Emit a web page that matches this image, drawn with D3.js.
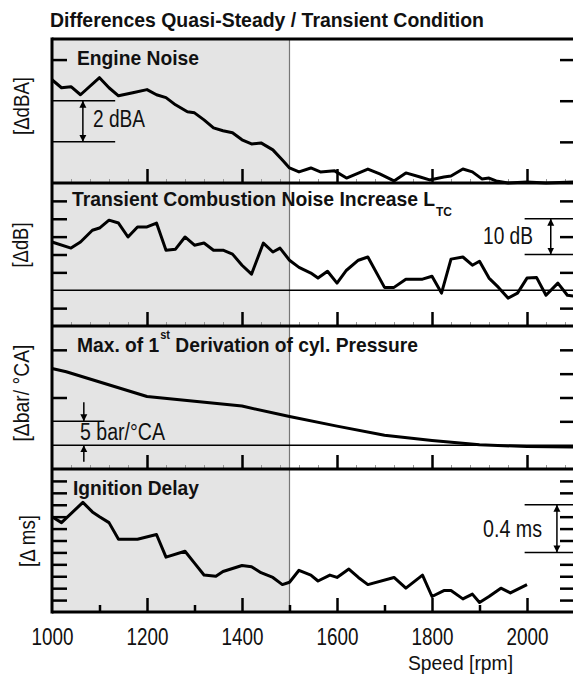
<!DOCTYPE html>
<html>
<head>
<meta charset="utf-8">
<title>Differences Quasi-Steady / Transient Condition</title>
<script src="https://d3js.org/d3.v7.min.js"></script>
<style>
  body { margin: 0; background: #fff; }
  svg text { font-family: 'Liberation Sans', Arial, sans-serif; fill: #111; }
  .frame { stroke: #000; stroke-width: 3; fill: none; }
  .tick line { stroke: #000; stroke-width: 2.5; }
  .minor .tick line { stroke: #999; stroke-width: 1; }
  .data { fill: none; stroke: #000; stroke-width: 3; stroke-linejoin: round; }
  .thin { stroke: #000; stroke-width: 1.5; }
</style>
</head>
<body>
<div id="chart"></div>
<script>
// ---- data ----
var rpmTicks = [1000, 1200, 1400, 1600, 1800, 2000];

var engineRpm   = [1000, 1020, 1040, 1060, 1100, 1120, 1140, 1170, 1200, 1220, 1240, 1260, 1285, 1300, 1320, 1340, 1360, 1380, 1400, 1420, 1440, 1465, 1485, 1500, 1520, 1545, 1565, 1595, 1620, 1665, 1690, 1720, 1745, 1775, 1795, 1825, 1840, 1865, 1885, 1905, 1920, 1935, 1960, 2000, 2040, 2100];
var engineNoise = [3.02, 2.63, 2.68, 2.29, 3.12, 2.63, 2.24, 2.39, 2.54, 2.29, 2.15, 1.80, 1.46, 1.41, 1.07, 0.68, 0.54, 0.44, 0.10, -0.10, -0.05, -0.39, -0.88, -1.27, -1.46, -1.27, -1.46, -1.41, -1.76, -1.32, -1.56, -1.90, -1.51, -1.71, -1.85, -1.71, -1.66, -1.32, -1.46, -1.80, -1.76, -1.90, -2.0, -1.95, -2.0, -1.95];

var transRpm  = [1000, 1040, 1060, 1085, 1100, 1120, 1140, 1160, 1180, 1200, 1220, 1240, 1260, 1280, 1300, 1320, 1340, 1360, 1380, 1400, 1420, 1445, 1465, 1480, 1500, 1520, 1545, 1560, 1580, 1600, 1620, 1645, 1665, 1700, 1720, 1745, 1780, 1800, 1820, 1840, 1865, 1885, 1900, 1920, 1940, 1960, 1980, 2000, 2020, 2040, 2065, 2085, 2100];
var transNoise = [13.5, 11.8, 13.5, 16.8, 17.4, 19.6, 18.8, 14.9, 17.7, 17.7, 18.8, 11.2, 11.5, 14.9, 12.6, 13.2, 11.2, 11.2, 10.1, 7.0, 4.5, 13.2, 10.7, 11.8, 8.4, 6.4, 4.8, 3.4, 5.3, 2.0, 5.6, 8.4, 9.3, 0.8, 0.8, 3.1, 3.1, 3.9, -0.8, 8.7, 9.3, 7.0, 8.1, 3.4, 0.8, -2.2, -0.8, 3.4, 3.6, -1.4, 2.0, -1.4, -1.7];

var pressRpm   = [1000, 1030, 1200, 1400, 1500, 1600, 1700, 1800, 1900, 2000, 2100];
var pressDeriv = [16.1, 15.4, 10.2, 8.2, 6.0, 4.0, 2.1, 1.0, 0.1, -0.3, -0.4];

var ignRpm   = [1000, 1020, 1065, 1085, 1100, 1120, 1140, 1180, 1220, 1240, 1280, 1300, 1320, 1345, 1360, 1400, 1420, 1440, 1465, 1485, 1500, 1520, 1545, 1560, 1585, 1600, 1625, 1645, 1665, 1720, 1745, 1780, 1800, 1825, 1840, 1865, 1885, 1900, 1920, 1945, 1965, 2000];
var ignDelay = [0.80, 0.75, 0.92, 0.84, 0.80, 0.75, 0.61, 0.61, 0.65, 0.46, 0.51, 0.41, 0.31, 0.30, 0.34, 0.39, 0.38, 0.33, 0.29, 0.23, 0.25, 0.35, 0.31, 0.26, 0.31, 0.29, 0.36, 0.29, 0.23, 0.29, 0.20, 0.31, 0.13, 0.18, 0.18, 0.11, 0.15, 0.08, 0.13, 0.20, 0.16, 0.23];

// ---- layout ----
var width = 573, height = 677;
var left = 52, right = 574.5;
var tops = [39, 183, 326, 469], bottom = 612;

var svg = d3.select("#chart").append("svg")
    .attr("width", width)
    .attr("height", height);

var defs = svg.append("defs");
defs.append("marker")
    .attr("id", "arr")
    .attr("viewBox", "0 0 10 10")
    .attr("refX", 10).attr("refY", 5)
    .attr("markerWidth", 7).attr("markerHeight", 9)
    .attr("markerUnits", "userSpaceOnUse")
    .attr("orient", "auto-start-reverse")
    .append("path").attr("d", "M0,0L10,5L0,10Z").attr("fill", "#000");

// condensed look: stretch text to the widths measured on the figure
// parts: [text, fontSize, dy, dx]
function txt(tx, ty, parts, len, bold, anchor) {
  var t = svg.append("text")
      .attr("x", tx).attr("y", ty)
      .attr("text-anchor", anchor || "start");
  if (typeof parts === "string") parts = [[parts, 23]];
  t.style("font-size", parts[0][1] + "px");
  parts.forEach(function(pt) {
    var s = t.append("tspan").text(pt[0]).style("font-size", pt[1] + "px");
    if (pt[2]) s.attr("dy", pt[2]);
    if (pt[3]) s.attr("dx", pt[3]);
  });
  if (bold) t.style("font-weight", "bold");
  if (len) t.attr("textLength", len).attr("lengthAdjust", "spacingAndGlyphs");
  return t;
}

var x = d3.scaleLinear().domain([1000, 2100]).range([left, right]);

var panels = [
  { name: "engine", domain: [-2, 5], rpm: engineRpm, vals: engineNoise,
    label: "[\u0394dBA]", lx: 29, ly: 106, llen: 58,
    leftTicks: [4], rightTicks: [4, 2, 0] },
  { name: "trans", domain: [-10, 30], rpm: transRpm, vals: transNoise,
    label: "[\u0394dB]", lx: 28, ly: 245, llen: 45,
    leftTicks: [25, 20, 15, 10, 5, -5], rightTicks: [25, 15, 5, -5] },
  { name: "press", domain: [-5, 25], rpm: pressRpm, vals: pressDeriv,
    label: "[\u0394bar/ \u00b0CA]", lx: 29, ly: 393, llen: 97,
    leftTicks: [20, 10], rightTicks: [20, 15, 10, 5] },
  { name: "ign", domain: [0, 1.2], rpm: ignRpm, vals: ignDelay,
    label: "[\u0394 ms]", lx: 35, ly: 541, llen: 52,
    leftTicks: d3.range(1, 12).map(function(i) { return i / 10; }),
    rightTicks: [0.1, 0.2, 0.3, 0.4, 0.6, 0.7, 0.8, 1.0, 1.1] }
];

panels.forEach(function(p, i) {
  p.top = tops[i];
  p.bottom = i < 3 ? tops[i + 1] : bottom;
  p.y = d3.scaleLinear().domain(p.domain).range([p.bottom, p.top]);
});

// grey quasi-steady region
svg.append("rect")
    .attr("x", x(1000)).attr("y", tops[0])
    .attr("width", x(1500) - x(1000)).attr("height", bottom - tops[0])
    .attr("fill", "#e4e4e4");
svg.append("line")
    .attr("x1", x(1500)).attr("x2", x(1500))
    .attr("y1", tops[0]).attr("y2", bottom)
    .attr("stroke", "#777").attr("stroke-width", 1.2);

panels.forEach(function(p, i) {
  var g = svg.append("g").attr("class", "panel-" + p.name);

  // faint fine ticks along the panel separators
  if (i < 3) {
    var gm = g.append("g").attr("class", "minor")
        .attr("transform", "translate(0," + p.bottom + ")")
        .call(d3.axisBottom(x).tickValues(d3.range(1040, 2100, 40)).tickSize(-4).tickFormat(""));
    gm.select(".domain").remove();
  }

  // x ticks pointing up from the panel bottom
  var xAx = d3.axisBottom(x)
      .tickValues(i < 3 ? [1200, 1400, 1600, 1800, 2000] : d3.range(1100, 2100, 100))
      .tickSize(-14).tickFormat("");
  var gx = g.append("g").attr("transform", "translate(0," + p.bottom + ")").call(xAx);
  gx.select(".domain").remove();
  if (i === 3) {
    gx.selectAll(".tick line").attr("y2", function(d) { return d % 200 === 0 ? -14 : -7; });
  }

  // y ticks inside left and right
  var gl = g.append("g").attr("transform", "translate(" + left + ",0)")
      .call(d3.axisLeft(p.y).tickValues(p.leftTicks).tickSize(-15).tickFormat(""));
  gl.select(".domain").remove();
  var gr = g.append("g").attr("transform", "translate(" + width + ",0)")
      .call(d3.axisRight(p.y).tickValues(p.rightTicks).tickSize(-13).tickFormat(""));
  gr.select(".domain").remove();

  // data line
  var line = d3.line()
      .x(function(d) { return x(d[0]); })
      .y(function(d) { return p.y(d[1]); });
  g.append("path")
      .attr("class", "data")
      .attr("d", line(d3.zip(p.rpm, p.vals)));

  // y axis label
  g.append("text")
      .attr("transform", "translate(" + p.lx + "," + p.ly + ") rotate(-90)")
      .attr("text-anchor", "middle")
      .attr("textLength", p.llen).attr("lengthAdjust", "spacingAndGlyphs")
      .style("font-size", "22px")
      .text(p.label);
});

var P = panels;

// zero lines
[P[1], P[2]].forEach(function(p) {
  svg.append("line").attr("class", "thin")
      .attr("x1", left).attr("x2", width)
      .attr("y1", p.y(0)).attr("y2", p.y(0));
});

// frame: left axis, top, separators, bottom
svg.append("line").attr("class", "frame")
    .attr("x1", left).attr("x2", left).attr("y1", tops[0] - 1.5).attr("y2", bottom + 1.5);
tops.concat([bottom]).forEach(function(t) {
  svg.append("line").attr("class", "frame")
      .attr("x1", left).attr("x2", width).attr("y1", t).attr("y2", t);
});

// scale bars
function hbar(p, v, r0, r1) {
  svg.append("line").attr("class", "thin")
      .attr("x1", x(r0)).attr("x2", x(r1))
      .attr("y1", p.y(v)).attr("y2", p.y(v));
}
function arrow(xv, ya, yb, both) {
  var l = svg.append("line")
      .attr("x1", xv).attr("x2", xv).attr("y1", ya).attr("y2", yb)
      .attr("stroke", "#000").attr("stroke-width", 1.5)
      .attr("marker-end", "url(#arr)");
  if (both) l.attr("marker-start", "url(#arr)");
}

// engine noise: 2 dBA
hbar(P[0], 2, 1000, 1133);
hbar(P[0], 0, 1000, 1133);
arrow(x(1065), P[0].y(2), P[0].y(0), true);
txt(93, 127, "2 dBA", 52);

// transient: 10 dB
hbar(P[1], 20, 1995, 2100);
hbar(P[1], 10, 1995, 2100);
arrow(x(2050), P[1].y(20), P[1].y(10), true);
txt(483, 244, "10 dB", 50);

// pressure: 5 bar/°CA
hbar(P[2], 5, 1000, 1110);
arrow(x(1067), P[2].y(9), P[2].y(5));
arrow(x(1067), P[2].y(-3.5), P[2].y(0));
txt(80, 440, "5 bar/\u00b0CA", 85);

// ignition: 0.4 ms
hbar(P[3], 0.9, 1995, 2100);
hbar(P[3], 0.5, 1995, 2100);
arrow(x(2063), P[3].y(0.9), P[3].y(0.5), true);
txt(483, 537, "0.4 ms", 59);

// panel titles
txt(77, 65, [["Engine Noise", 21]], 122, true);
txt(72, 206, [["Transient Combustion Noise Increase L", 21], ["TC", 13, 10, 1]], 380, true);
txt(77, 352, [["Max. of 1", 21], ["st", 12, -13, 1], [" Derivation of cyl. Pressure", 21, 13]], 341, true);
txt(73, 495, [["Ignition Delay", 21]], 126, true);

// main title
txt(50, 27, [["Differences Quasi-Steady / Transient Condition", 20]], 434, true);

// x tick labels and axis title
var xl = svg.append("g").attr("transform", "translate(0," + bottom + ")")
    .call(d3.axisBottom(x).tickValues(rpmTicks).tickSize(0).tickPadding(17)
      .tickFormat(d3.format("d")));
xl.select(".domain").remove();
xl.selectAll("text")
    .style("font-size", "23px")
    .style("font-family", "'Liberation Sans', Arial, sans-serif")
    .attr("transform", "scale(0.82,1)");

txt(408, 670, [["Speed [rpm]", 21]], 105);
</script>
</body>
</html>
